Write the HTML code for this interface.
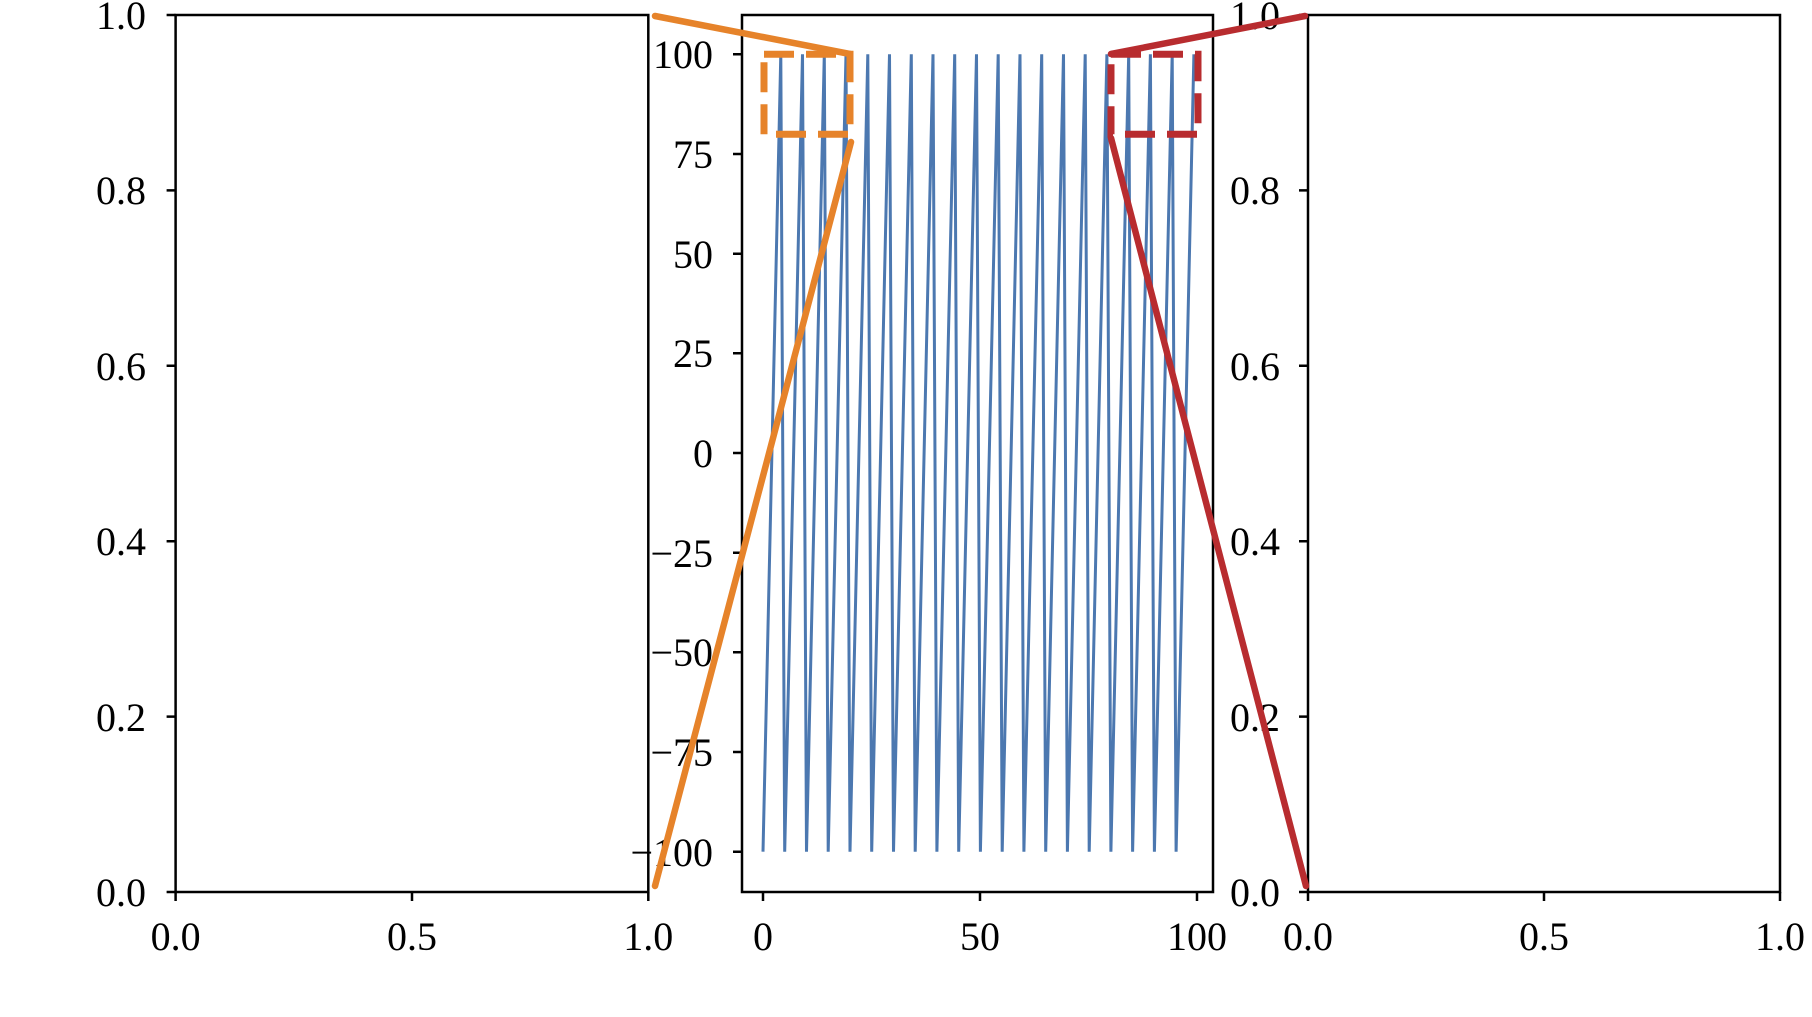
<!DOCTYPE html>
<html><head><meta charset="utf-8"><style>html,body{margin:0;padding:0;background:#fff}svg{display:block}</style></head>
<body>
<svg width="1812" height="1017" viewBox="0 0 1812 1017" xmlns="http://www.w3.org/2000/svg" font-family="Liberation Serif, serif" font-size="40" fill="#000">
<rect width="1812" height="1017" fill="#fff"/>
<g id="lines" fill="none" stroke="#4c78b0" stroke-width="3"></g>
<script>
(function(){
 var g=document.getElementById('lines');var pts=[];
 function X(v){return 763+4.34*v} function Y(v){return 453-3.987*v}
 for(var i=0;i<20;i++){var b=i*5.01;pts.push(X(b).toFixed(1)+','+Y(-100).toFixed(1));pts.push(X(b+4.1).toFixed(1)+','+Y(100).toFixed(1));}
 var p=document.createElementNS('http://www.w3.org/2000/svg','polyline');p.setAttribute('points',pts.join(' '));g.appendChild(p);
})();
</script>
<g fill="none" stroke="#000" stroke-width="2.5">
<rect x="175.6" y="15" width="472.7" height="877"/>
<rect x="742" y="15" width="471" height="877"/>
<rect x="1308" y="15" width="472" height="877"/>
<path d="M175.6 892h-9M175.6 716.6h-9M175.6 541.2h-9M175.6 365.8h-9M175.6 190.4h-9M175.6 15h-9M175.6 892v9M412 892v9M648.3 892v9"/>
<path d="M1308 892h-9M1308 716.6h-9M1308 541.2h-9M1308 365.8h-9M1308 190.4h-9M1308 15h-9M1308 892v9M1544 892v9M1780 892v9"/>
<path d="M742 54.3h-9M742 154h-9M742 253.7h-9M742 353.3h-9M742 453h-9M742 552.7h-9M742 652.3h-9M742 752h-9M742 851.7h-9M763 892v9M980 892v9M1197 892v9"/>
</g>
<g text-anchor="end">
<text x="146" y="906">0.0</text><text x="146" y="731">0.2</text><text x="146" y="555">0.4</text><text x="146" y="380">0.6</text><text x="146" y="204">0.8</text><text x="146" y="29">1.0</text>
<text x="1280" y="906">0.0</text><text x="1280" y="731">0.2</text><text x="1280" y="555">0.4</text><text x="1280" y="380">0.6</text><text x="1280" y="204">0.8</text><text x="1280" y="29">1.0</text>
<text x="713" y="68">100</text><text x="713" y="168">75</text><text x="713" y="268">50</text><text x="713" y="367">25</text><text x="713" y="467">0</text><text x="713" y="567">−25</text><text x="713" y="666">−50</text><text x="713" y="766">−75</text><text x="713" y="866">−100</text>
</g>
<g text-anchor="middle">
<text x="175.6" y="950">0.0</text><text x="412" y="950">0.5</text><text x="648.3" y="950">1.0</text>
<text x="763" y="950">0</text><text x="980" y="950">50</text><text x="1197" y="950">100</text>
<text x="1308" y="950">0.0</text><text x="1544" y="950">0.5</text><text x="1780" y="950">1.0</text>
</g>
<g fill="none" stroke-width="6.5" stroke-linecap="round">
<rect x="764" y="54.3" width="86" height="80" stroke="#e6832a" stroke-width="7" stroke-linecap="butt" stroke-dasharray="30,12"/>
<rect x="1111" y="54.3" width="87" height="80" stroke="#b82c2f" stroke-width="7" stroke-linecap="butt" stroke-dasharray="30,12"/>
<path d="M655 16L850 54M655 886L851 142" stroke="#e6832a"/>
<path d="M1305 16L1111 54M1306 886L1111 138" stroke="#b82c2f"/>
</g>
</svg>
</body></html>
